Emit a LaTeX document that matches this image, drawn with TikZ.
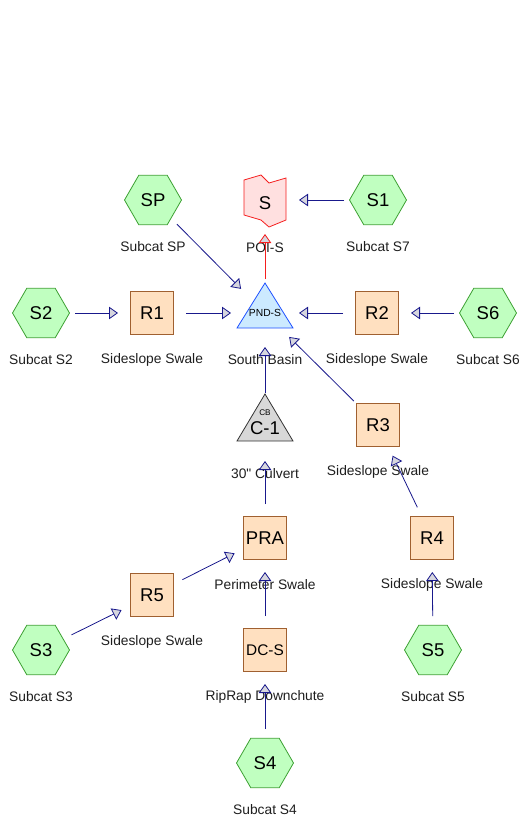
\documentclass[tikz,border=0pt]{standalone}
\usepackage{fontspec}
\setmainfont{Liberation Sans}
\newfontfamily\plainsans{Liberation Sans}
\usepackage{tikz}
\usetikzlibrary{shapes.geometric, arrows.meta, positioning}

\definecolor{linkblue}{RGB}{25,25,140}
\definecolor{subfill}{RGB}{192,255,192}
\definecolor{subline}{RGB}{60,160,50}
\definecolor{reachfill}{RGB}{255,224,192}
\definecolor{reachline}{RGB}{160,96,48}
\definecolor{pondfill}{RGB}{204,234,255}
\definecolor{pondline}{RGB}{30,80,255}
\definecolor{poifill}{RGB}{255,224,224}
\definecolor{poiline}{RGB}{245,30,30}
\definecolor{cbfill}{RGB}{216,216,216}
\definecolor{tipfill}{RGB}{214,214,222}
\definecolor{txtgray}{RGB}{30,30,30}

\begin{document}
\begin{tikzpicture}[x=1pt, y=-1pt, line width=0.8pt]
\tikzstyle{subcat}=[draw=subline, fill=subfill, regular polygon, regular polygon sides=6, minimum size=57pt, inner sep=0pt, font=\fontsize{18.5}{20}\selectfont]
\tikzstyle{reach}=[draw=reachline, fill=reachfill, rectangle, minimum size=43pt, inner sep=0pt, font=\fontsize{18.5}{20}\selectfont]
\tikzstyle{lbl}=[text=txtgray, font=\plainsans\fontsize{13.8}{16}\selectfont, yshift=-47pt]
\tikzstyle{flow}=[draw=linkblue, shorten <=34pt, shorten >=34pt, -{Triangle[length=9pt, width=12.5pt, fill=tipfill]}]

\useasboundingbox (0,0) rectangle (525,820);

% outlets
\coordinate (poi) at (265,200);
\coordinate (pnd) at (265,313);
\coordinate (cb)  at (265,427);
\draw[draw=poiline, fill=poifill] (244,180) -- (261,175) -- (269,183) -- (286,178) -- (286,220) -- (269,227) -- (261,220) -- (244,215) -- cycle;
\draw[draw=pondline, fill=pondfill] (pnd) ++(-28,15) -- ++(56,0) -- ++(-28,-45) -- cycle;
\draw[draw=black!80, fill=cbfill] (cb) ++(-28,14) -- ++(56,0) -- ++(-28,-47) -- cycle;

\node[font=\fontsize{18.5}{20}\selectfont]   (S)     at (265,203)   {S};
\node[font=\fontsize{10.3}{12}\selectfont]   (PND-S) at (pnd)       {PND-S};
\node[font=\fontsize{18.5}{20}\selectfont]   (C-1)   at (265,428)   {C-1};
\node[font=\fontsize{8.2}{9}\selectfont]     (CB)    at (265,413)   {CB};

% subcatchments
\node[subcat]    (SP)   at (153,200)   {SP};
\node[subcat]    (S1)   at (378,200)   {S1};
\node[subcat]    (S2)   at (41,313)    {S2};
\node[subcat]    (S6)   at (488,313)   {S6};
\node[subcat]    (S3)   at (41,650)    {S3};
\node[subcat]    (S5)   at (433,650)   {S5};
\node[subcat]    (S4)   at (265,763)   {S4};

% reaches
\node[reach]    (R1)    at (152,313)   {R1};
\node[reach]    (R2)    at (377,313)   {R2};
\node[reach]    (R3)    at (378,425)   {R3};
\node[reach]    (PRA)   at (265,538)   {PRA};
\node[reach]    (R4)    at (432,538)   {R4};
\node[reach]    (R5)    at (152,595)   {R5};
\node[reach, font=\fontsize{15.4}{17}\selectfont]    (DC-S)  at (265,650)   {DC-S};

% labels
\node[lbl]    (SP-l)    at (SP)     {Subcat SP};
\node[lbl, yshift=-1pt]    (S-l)     at (poi)    {POI-S};
\node[lbl]    (S1-l)    at (S1)     {Subcat S7};
\node[lbl]    (S2-l)    at (S2)     {Subcat S2};
\node[lbl]    (R1-l)    at (R1)     {Sideslope Swale};
\node[lbl]    (PND-l)   at (pnd)    {South Basin};
\node[lbl]    (R2-l)    at (R2)     {Sideslope Swale};
\node[lbl]    (S6-l)    at (S6)     {Subcat S6};
\node[lbl]    (C-1-l)   at (cb)     {30" Culvert};
\node[lbl]    (R3-l)    at (R3)     {Sideslope Swale};
\node[lbl]    (PRA-l)   at (PRA)    {Perimeter Swale};
\node[lbl]    (R4-l)    at (R4)     {Sideslope Swale};
\node[lbl]    (R5-l)    at (R5)     {Sideslope Swale};
\node[lbl]    (S3-l)    at (S3)     {Subcat S3};
\node[lbl]    (DC-l)    at (DC-S)   {RipRap Downchute};
\node[lbl]    (S5-l)    at (S5)     {Subcat S5};
\node[lbl]    (S4-l)    at (S4)     {Subcat S4};

\path
(S1.center)    edge[flow]    (poi)
(SP.center)    edge[flow]    (pnd)
(S2.center)    edge[flow]    (R1.center)
(R1.center)    edge[flow]    (pnd)
(R2.center)    edge[flow]    (pnd)
(S6.center)    edge[flow]    (R2.center)
(cb)           edge[flow]    (pnd)
(R3.center)    edge[flow]    (pnd)
(PRA.center)   edge[flow]    (cb)
(R4.center)    edge[flow]    (R3.center)
(R5.center)    edge[flow]    (PRA.center)
(S3.center)    edge[flow]    (R5.center)
(DC-S.center)  edge[flow]    (PRA.center)
(S5.center)    edge[flow]    (R4.center)
(S4.center)    edge[flow]    (DC-S.center)
(pnd)          edge[flow, draw=poiline]    (poi);

\end{tikzpicture}
\end{document}
